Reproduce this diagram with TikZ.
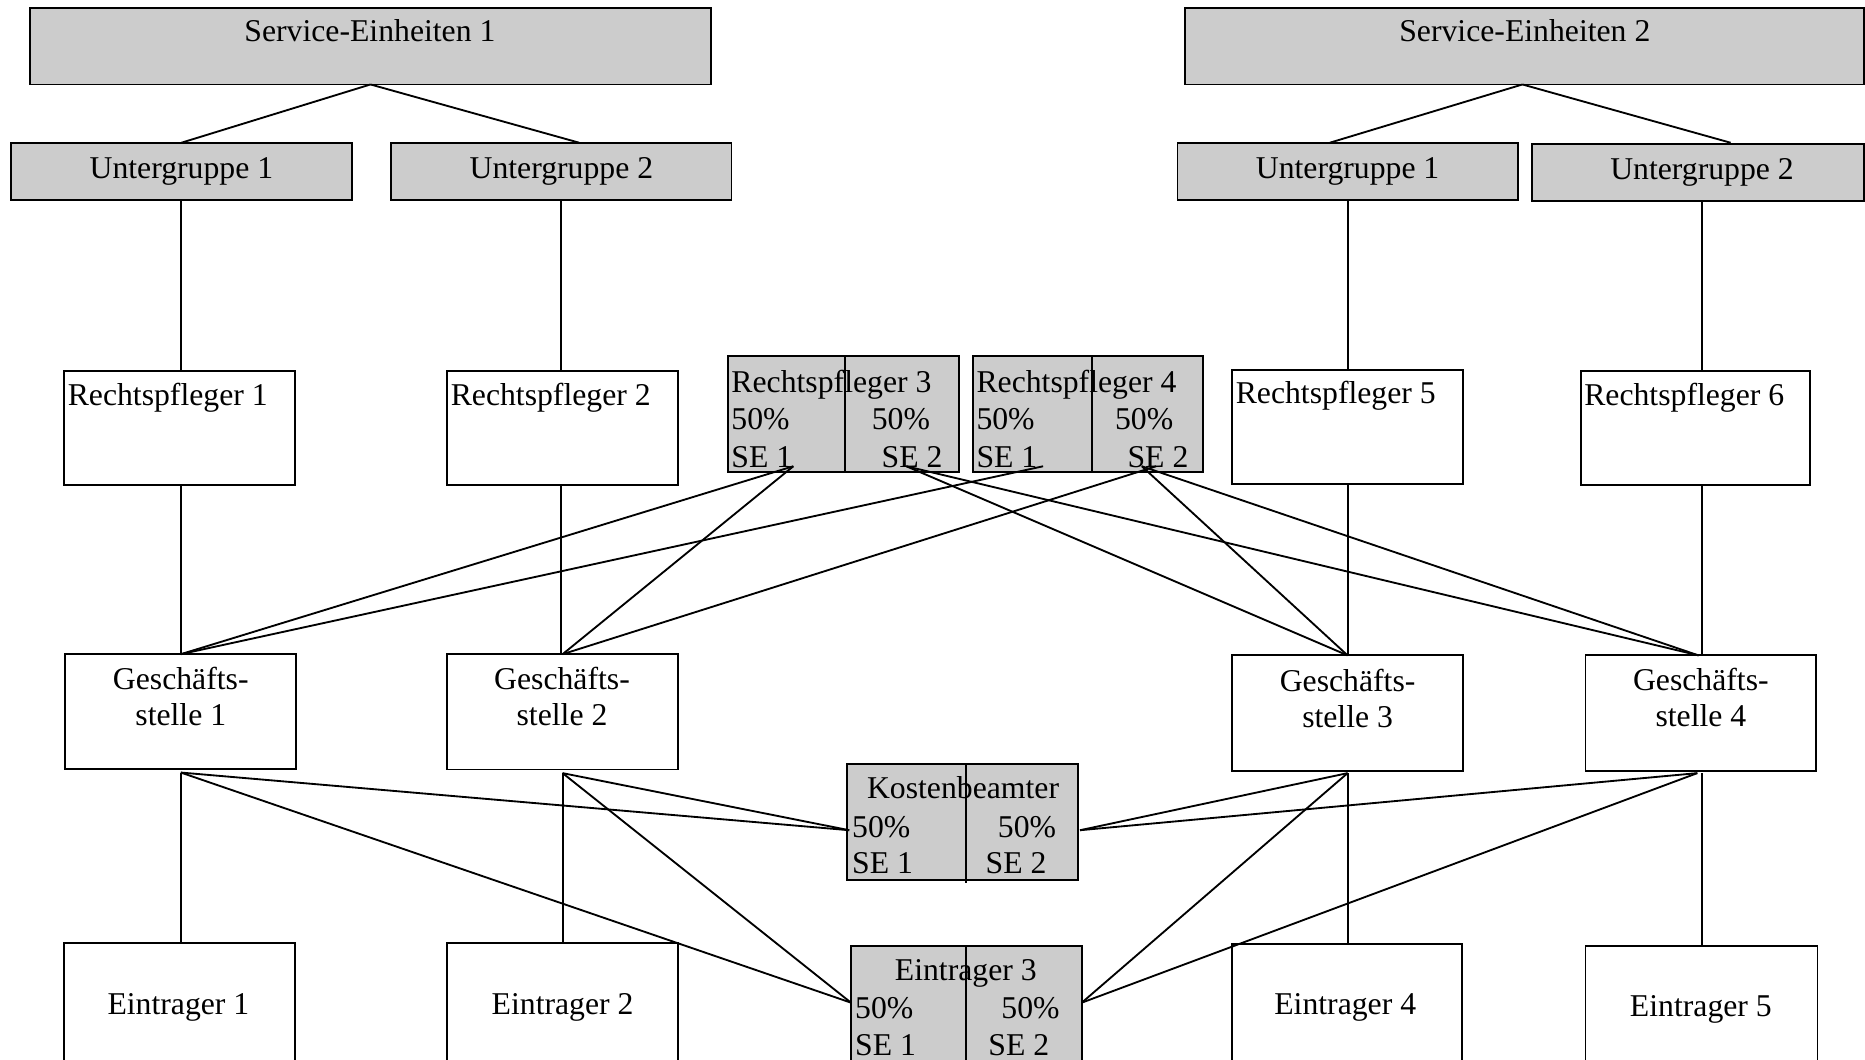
\documentclass[tikz,border=0pt]{standalone}
\usepackage{fontspec}
\setmainfont{Liberation Serif}
\usetikzlibrary{calc}
\definecolor{boxgray}{HTML}{CCCCCC}
\tikzset{
  wbox/.style={draw=black, fill=white, line width=0.7pt, inner sep=0pt, outer sep=0pt},
  gbox/.style={draw=black, fill=boxgray, line width=0.7pt, inner sep=0pt, outer sep=0pt},
  txt/.style={inner sep=0pt, outer sep=0pt, font=\fontsize{12}{14}\selectfont},
  conn/.style={draw=black, line width=0.7pt},
}
\newcommand\ubox[6]{\node[#6, minimum width={(#4-#2)*0.45pt}, minimum height={(#5-#3)*0.45pt}] (#1) at ({(#2+#4)/2},{(#3+#5)/2}) {};}
\begin{document}
\begin{tikzpicture}[x=0.45pt, y=-0.45pt]
\clip (0,0) rectangle (1568,891);
\fill[white] (0,0) rectangle (1568,891);

% ---------- boxes ----------
\ubox{se1}{25}{7}{598}{71}{gbox}
\ubox{se2}{996}{7}{1567}{71}{gbox}
\ubox{ug1}{9}{120}{296}{168}{gbox}
\ubox{ug2}{329}{120}{615}{168}{gbox}
\ubox{ug3}{990}{120}{1276}{168}{gbox}
\ubox{ug4}{1288}{121}{1567}{169}{gbox}

\ubox{rp1}{54}{312}{248}{408}{wbox}
\ubox{rp2}{376}{312}{570}{408}{wbox}
\ubox{rp3}{612}{299.3}{806.3}{396.6}{gbox}
\ubox{rp4}{817.8}{299.3}{1011.6}{396.6}{gbox}
\ubox{rp5}{1036}{311}{1230}{407}{wbox}
\ubox{rp6}{1329}{312}{1522}{408}{wbox}

\ubox{gs1}{55}{550}{249}{646.5}{wbox}
\ubox{gs2}{376}{550}{570}{647}{wbox}
\ubox{gs3}{1036}{551}{1230}{648}{wbox}
\ubox{gs4}{1333}{551}{1527}{648}{wbox}

\ubox{kb}{712}{642.3}{906.5}{740}{gbox}

\ubox{e1}{54}{793}{248}{905}{wbox}
\ubox{e2}{376}{793}{570}{905}{wbox}
\ubox{e3}{715.2}{795}{909.4}{905}{gbox}
\ubox{e4}{1036}{794}{1229}{905}{wbox}
\ubox{e5}{1333}{795}{1528}{905}{wbox}

% split lines inside the shared boxes
\draw[conn] (710.5,299.3) -- (710.5,396.6);
\draw[conn] (917.8,299.3) -- (917.8,396.6);
\draw[conn] (812,642.3) -- (812,742);
\draw[conn] (812,795) -- (812,905);

% ---------- texts ----------
\node[txt, anchor=base] (tse1) at (311,35) {Service-Einheiten 1};
\node[txt, anchor=base] (tse2) at (1282,35) {Service-Einheiten 2};
\node[txt, anchor=base] (tug1) at (152.5,150) {Untergruppe 1};
\node[txt, anchor=base] (tug2) at (472,150) {Untergruppe 2};
\node[txt, anchor=base] (tug3) at (1133,150) {Untergruppe 1};
\node[txt, anchor=base] (tug4) at (1431,151) {Untergruppe 2};

\node[txt, anchor=base west] (trp1) at (57,340.5) {Rechtspfleger 1};
\node[txt, anchor=base west] (trp2) at (379,340.5) {Rechtspfleger 2};
\node[txt, anchor=base west] (trp5) at (1039,339) {Rechtspfleger 5};
\node[txt, anchor=base west] (trp6) at (1332,341) {Rechtspfleger 6};

\node[txt, anchor=base west] (trp3a) at (615,330) {Rechtspfleger 3};
\node[txt, anchor=base west] (trp3b) at (615,361.5) {50\%};
\node[txt, anchor=base west] (trp3c) at (615,393) {SE 1};
\node[txt, anchor=base west] (trp3d) at (733,361.5) {50\%};
\node[txt, anchor=base west] (trp3e) at (741.3,393) {SE 2};

\node[txt, anchor=base west] (trp4a) at (821,330) {Rechtspfleger 4};
\node[txt, anchor=base west] (trp4b) at (821,361.5) {50\%};
\node[txt, anchor=base west] (trp4c) at (821,393) {SE 1};
\node[txt, anchor=base west] (trp4d) at (937.5,361.5) {50\%};
\node[txt, anchor=base west] (trp4e) at (948,393) {SE 2};

\node[txt, anchor=base] (tgs1a) at (152,579.3) {Geschäfts-};
\node[txt, anchor=base] (tgs1b) at (152,610) {stelle 1};
\node[txt, anchor=base] (tgs2a) at (472.5,579.3) {Geschäfts-};
\node[txt, anchor=base] (tgs2b) at (472.5,610) {stelle 2};
\node[txt, anchor=base] (tgs3a) at (1133,581.5) {Geschäfts-};
\node[txt, anchor=base] (tgs3b) at (1133,612) {stelle 3};
\node[txt, anchor=base] (tgs4a) at (1430,580.5) {Geschäfts-};
\node[txt, anchor=base] (tgs4b) at (1430,611) {stelle 4};

\node[txt, anchor=base] (tkba) at (809.7,671) {Kostenbeamter};
\node[txt, anchor=base west] (tkbb) at (716.5,703.7) {50\%};
\node[txt, anchor=base west] (tkbc) at (716.5,734.5) {SE 1};
\node[txt, anchor=base west] (tkbd) at (839,703.7) {50\%};
\node[txt, anchor=base west] (tkbe) at (828.7,734.5) {SE 2};

\node[txt, anchor=base] (te3a) at (812,824) {Eintrager 3};
\node[txt, anchor=base west] (te3b) at (719,856) {50\%};
\node[txt, anchor=base west] (te3c) at (719,887) {SE 1};
\node[txt, anchor=base west] (te3d) at (842,856) {50\%};
\node[txt, anchor=base west] (te3e) at (831,887) {SE 2};

\node[txt, anchor=base] (te1) at (150,853) {Eintrager 1};
\node[txt, anchor=base] (te2) at (473,853) {Eintrager 2};
\node[txt, anchor=base] (te4) at (1131,853) {Eintrager 4};
\node[txt, anchor=base] (te5) at (1430,855) {Eintrager 5};

% ---------- connector end points ----------
\coordinate (p3a) at (667,392);
\coordinate (p3b) at (762,392);
\coordinate (p4a) at (877,392);
\coordinate (p4b) at (960,392);
\coordinate (p4c) at (972,392);
\coordinate (g1b) at ($(gs1.south)+(0,3)$);
\coordinate (g2b) at ($(gs2.south)+(0,3)$);
\coordinate (g3b) at ($(gs3.south)+(0,2)$);
\coordinate (g4b) at (1427,650);
\coordinate (kl) at (714,698);
\coordinate (kr) at (908,698);
\coordinate (el) at (715.5,843);
\coordinate (er) at (909.5,843);

% ---------- connectors ----------
\draw[conn] (se1.south) -- (ug1.north);
\draw[conn] (se1.south) -- ($(ug2.north)+(15,0)$);
\draw[conn] ($(se2.south)+(-1.5,0)$) -- ($(ug3.north)+(-15,0)$);
\draw[conn] ($(se2.south)+(-1.5,0)$) -- ($(ug4.north)+(27.5,-1)$);

\draw[conn] (ug1.south) -- (ug1.south |- rp1.north);
\draw[conn] (ug2.south) -- (ug2.south |- rp2.north);
\draw[conn] (ug3.south) -- (ug3.south |- rp5.north);
\draw[conn] ($(ug4.south)+(3.5,0)$) -- ($(ug4.south |- rp6.north)+(3.5,0)$);

\draw[conn] ($(rp1.south)+(1,0)$) -- (gs1.north);
\draw[conn] ($(rp2.south)+(-1,0)$) -- ($(gs2.north)+(-1,0)$);
\draw[conn] (rp5.south) -- (gs3.north);
\draw[conn] ($(gs4.north |- rp6.south)+(1,0)$) -- ($(gs4.north)+(1,0)$);

\draw[conn] (p3a) -- (gs1.north);
\draw[conn] (p3a) -- (gs2.north);
\draw[conn] (p4a) -- (gs1.north);
\draw[conn] (p4c) -- (gs2.north);
\draw[conn] (p3b) -- (gs3.north);
\draw[conn] (p3b) -- ($(gs4.north)+(-2,0)$);
\draw[conn] (p4b) -- (gs3.north);
\draw[conn] (p4b) -- ($(gs4.north)+(-2,0)$);

\draw[conn] (g1b) -- (kl);
\draw[conn] (g1b) -- (el);
\draw[conn] (g2b) -- (kl);
\draw[conn] (g2b) -- (el);
\draw[conn] (g3b) -- (kr);
\draw[conn] (g3b) -- (er);
\draw[conn] (g4b) -- (kr);
\draw[conn] (g4b) -- (er);

\draw[conn] (g1b) -- (g1b |- e1.north);
\draw[conn] (g2b) -- (g2b |- e2.north);
\draw[conn] (g3b) -- (g3b |- e4.north);
\draw[conn] ($(g4b)+(4,0)$) -- ($(g4b |- e5.north)+(4,0)$);
\end{tikzpicture}
\end{document}
